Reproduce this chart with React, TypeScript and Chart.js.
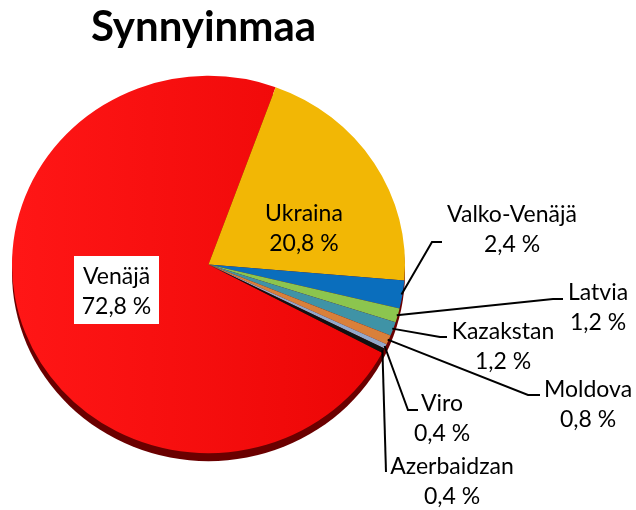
import React, { useEffect, useRef } from "react";
import { Chart, registerables } from "chart.js";

Chart.register(...registerables);

// ---- data ----
const TITLE = "Synnyinmaa";
const countries = [
  "Venäjä",
  "Ukraina",
  "Valko-Venäjä",
  "Latvia",
  "Kazakstan",
  "Moldova",
  "Viro",
  "Azerbaidzan",
];
const shares = [72.8, 20.8, 2.4, 1.2, 1.2, 0.8, 0.4, 0.4];
const sliceColors = [
  "#F20C0C",
  "#F2B705",
  "#0A6EBD",
  "#8CC54E",
  "#3F93A6",
  "#D9803A",
  "#93A8CA",
  "#111111",
];

// ---- styling / layout ----
const FONT = "Lato, 'DejaVu Sans', sans-serif";
const LABEL_SIZE = 23;
const LINE_GAP = 30;
const SQUASH = 0.96;
const SHIFT_X = 5;
const DEPTH = 8;
const ROTATION = 117.9;

type LabelPos = {
  cx: number;
  cy: number;
  box?: { x: number; y: number; w: number; h: number };
  elbow?: [number, number];
  end?: [number, number];
};

const labelLayout: LabelPos[] = [
  { cx: 116.5, cy: 291, box: { x: 74, y: 256, w: 85, h: 68 } },
  { cx: 304, cy: 228 },
  { cx: 512, cy: 229, elbow: [432, 242], end: [442, 242] },
  { cx: 598, cy: 307, elbow: [553, 299], end: [563, 299] },
  { cx: 503, cy: 346, elbow: [440, 337], end: [447, 337] },
  { cx: 588, cy: 404, elbow: [528, 395], end: [540, 395] },
  { cx: 442, cy: 418, elbow: [408, 410], end: [418, 410] },
  { cx: 452, cy: 481, elbow: [386, 472], end: [386, 472] },
];

const fmt = (v: number) => v.toFixed(1).replace(".", ",") + " %";

const piePlugin = {
  id: "pie3dLabels",
  beforeDatasetsDraw(chart: any) {
    const arc = chart.getDatasetMeta(0).data[0] as any;
    const ctx = chart.ctx as CanvasRenderingContext2D;
    ctx.save();
    if (!arc) return;
    const { x, y, outerRadius: r } = arc;
    // side wall (3D depth)
    ctx.save();
    ctx.translate(x + SHIFT_X, y + DEPTH);
    ctx.scale(1, SQUASH);
    ctx.beginPath();
    ctx.arc(0, 0, r, 0, Math.PI * 2);
    ctx.fillStyle = "#6A0000";
    ctx.fill();
    ctx.restore();
    ctx.translate(x + SHIFT_X, y);
    ctx.scale(1, SQUASH);
    ctx.translate(-x, -y);
  },
  afterDatasetsDraw(chart: any) {
    const ctx = chart.ctx as CanvasRenderingContext2D;
    ctx.restore();
    const meta = chart.getDatasetMeta(0);
    meta.data.forEach((el: any, i: number) => {
      const lay = labelLayout[i];
      if (!lay) return;
      const { x, y, outerRadius: r, startAngle, endAngle } = el;
      const mid = (startAngle + endAngle) / 2;
      const px = x + SHIFT_X + (r - 1) * Math.cos(mid);
      const py = y + SQUASH * (r - 1) * Math.sin(mid);
      ctx.save();
      if (lay.elbow && lay.end) {
        ctx.beginPath();
        ctx.moveTo(px, py);
        ctx.lineTo(lay.elbow[0], lay.elbow[1]);
        ctx.lineTo(lay.end[0], lay.end[1]);
        ctx.strokeStyle = "#000";
        ctx.lineWidth = 2;
        ctx.lineJoin = "miter";
        ctx.stroke();
      }
      if (lay.box) {
        ctx.fillStyle = "#FFFFFF";
        ctx.fillRect(lay.box.x, lay.box.y, lay.box.w, lay.box.h);
      }
      ctx.fillStyle = "#000";
      ctx.font = `${LABEL_SIZE}px ${FONT}`;
      ctx.textAlign = "center";
      ctx.textBaseline = "alphabetic";
      const capHalf = LABEL_SIZE * 0.36;
      ctx.fillText(countries[i], lay.cx, lay.cy - LINE_GAP / 2 + capHalf);
      ctx.fillText(fmt(shares[i]), lay.cx, lay.cy + LINE_GAP / 2 + capHalf);
      ctx.restore();
    });
  },
};

export default function App() {
  const canvasRef = useRef<HTMLCanvasElement | null>(null);

  useEffect(() => {
    const canvas = canvasRef.current;
    if (!canvas) return;
    const red = canvas.getContext("2d")!.createLinearGradient(12, 0, 410, 0);
    red.addColorStop(0, "#FF1616");
    red.addColorStop(1, "#EA0404");
    const chart = new Chart(canvas, {
      type: "pie",
      data: {
        labels: countries,
        datasets: [
          {
            data: shares,
            backgroundColor: sliceColors.map((c, i) => (i === 0 ? red : c)),
            borderWidth: 0,
            hoverOffset: 0,
            clip: false,
          } as any,
        ],
      },
      options: {
        responsive: false,
        animation: false,
        rotation: ROTATION,
        events: [],
        layout: { padding: { left: 2, right: 231, top: 0, bottom: 49 } },
        plugins: {
          legend: { display: false },
          tooltip: { enabled: false },
          title: {
            display: true,
            text: TITLE,
            color: "#000",
            font: { family: FONT, size: 42, weight: "bold", lineHeight: 1.1 },
            padding: { top: 4, bottom: 17.8 },
          },
        },
      },
      plugins: [piePlugin],
    });
    return () => chart.destroy();
  }, []);

  return (
    <div style={{ position: "fixed", left: 0, top: 0, width: 636, height: 510, background: "#fff" }}>
      <canvas ref={canvasRef} width={636} height={510} style={{ display: "block" }} />
    </div>
  );
}
